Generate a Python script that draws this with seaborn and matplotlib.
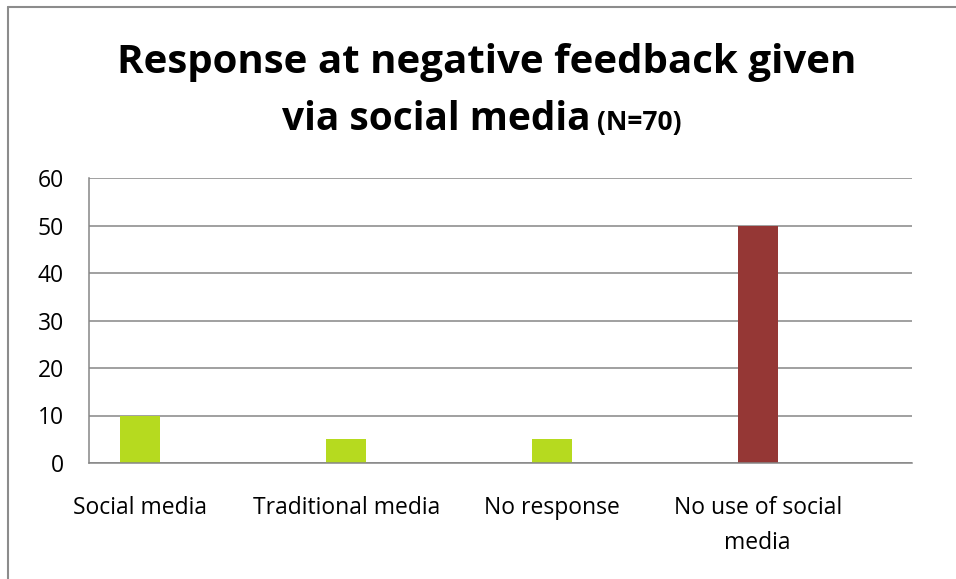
import pandas as pd
import matplotlib.pyplot as plt
from matplotlib.lines import Line2D
import seaborn as sns

# Data
categories = ['Social media', 'Traditional media', 'No response', 'No use of social\nmedia']
counts = [10, 5, 5, 50]
bar_colors = ['#B6DA1F', '#B6DA1F', '#B6DA1F', '#953735']
y_ticks = [0, 10, 20, 30, 40, 50, 60]

sns.set_style('white')
plt.rcParams['font.family'] = ['Open Sans', 'DejaVu Sans']
plt.rcParams['text.color'] = 'black'
plt.rcParams['xtick.labelcolor'] = 'black'
plt.rcParams['ytick.labelcolor'] = 'black'

W, H = 956, 579
fig = plt.figure(figsize=(W / 100, H / 100), dpi=100)
ax = fig.add_axes([89 / W, 1 - 463 / H, (912 - 89) / W, (463 - 178) / H])

# each category spans two slots of the axis; the bar sits in the first slot
df = pd.DataFrame({'pos': [2 * i + 0.5 for i in range(len(categories))],
                   'count': counts, 'cat': categories})
sns.barplot(data=df, x='pos', y='count', hue='cat', palette=bar_colors,
            native_scale=True, width=0.195, saturation=1, legend=False,
            linewidth=0, ax=ax)

grid_c = '#868686'
ax.set_xlim(0, 2 * len(categories))
ax.set_ylim(0, 60)
ax.set_yticks(y_ticks)
ax.yaxis.grid(True, color=grid_c, lw=1.1)
ax.set_axisbelow(True)
ax.set_xlabel('')
ax.set_ylabel('')

for s in ['top', 'right']:
    ax.spines[s].set_visible(False)
for s in ['left', 'bottom']:
    ax.spines[s].set_color(grid_c)
    ax.spines[s].set_linewidth(1.1)

ax.set_xticks(range(0, 2 * len(categories) + 1))
ax.set_xticklabels([])
ax.set_xticks(df['pos'], minor=True)
ax.set_xticklabels(categories, minor=True, fontsize=16.5)
ax.tick_params(axis='x', which='major', length=6, width=1.1, color=grid_c, direction='out')
ax.tick_params(axis='x', which='minor', length=0, pad=24)
ax.tick_params(axis='y', length=6, width=1.1, color=grid_c, direction='out',
               labelsize=16.5, pad=12)
for t in ax.get_xticklabels(minor=True):
    t.set_linespacing(1.6)

# titles
fig.text(487 / W, 1 - 73 / H, 'Response at negative feedback given',
         ha='center', va='baseline', fontsize=29, weight='bold')
fig.text(590 / W, 1 - 130 / H, 'via social media',
         ha='right', va='baseline', fontsize=28, weight='bold')
fig.text(597 / W, 1 - 130 / H, '(N=70)',
         ha='left', va='baseline', fontsize=19, weight='bold')

# chart area border (only top and left are in frame)
fig.add_artist(Line2D([7.5 / W, 7.5 / W], [0, 1 - 6.5 / H], color='#8C8C8C', lw=1.5))
fig.add_artist(Line2D([7.5 / W, 1], [1 - 6.5 / H, 1 - 6.5 / H], color='#8C8C8C', lw=1.5))

fig.savefig('out.png', dpi=100)
